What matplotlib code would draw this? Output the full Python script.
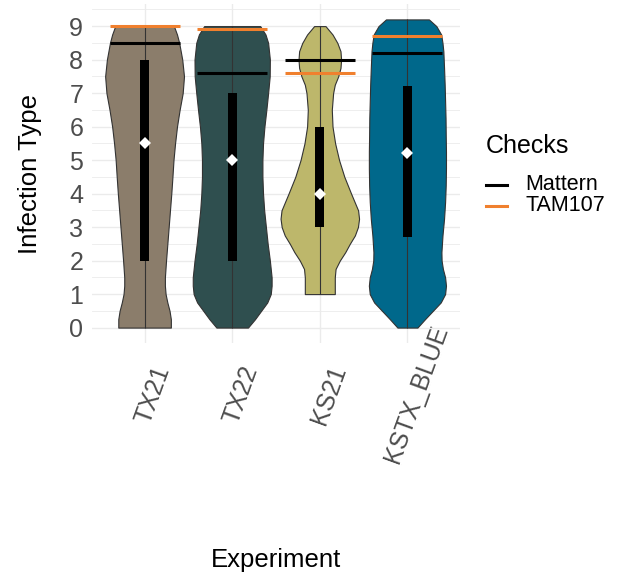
import numpy as np
import matplotlib.pyplot as plt
from matplotlib.lines import Line2D
from matplotlib.ticker import MultipleLocator
from matplotlib.transforms import ScaledTranslation

plt.rcParams['font.family'] = ['Liberation Sans', 'DejaVu Sans']

experiments = ['TX21', 'TX22', 'KS21', 'KSTX_BLUE']
fill_colors = ['#8B7D6B', '#2F4F4F', '#BDB76B', '#00688B']

# violin outlines: infection type level and half width of the violin there
tx21_y = [0, 0.25, 0.5, 0.75, 1.0, 1.25, 1.5, 2, 2.5, 3, 3.5, 4, 4.5, 5, 5.5, 6, 6.5, 7, 7.5, 8, 8.5, 8.75, 9]
tx21_w = [0.30, 0.30, 0.285, 0.26, 0.24, 0.232, 0.232, 0.245, 0.26, 0.275, 0.29, 0.305, 0.318, 0.33, 0.348,
          0.37, 0.40, 0.435, 0.45, 0.43, 0.395, 0.37, 0.335]

tx22_y = [0, 0.25, 0.5, 0.75, 1.0, 1.25, 1.5, 2, 2.5, 3, 3.5, 4, 4.5, 5, 5.5, 6, 6.5, 7, 7.5, 8, 8.5, 8.75, 9]
tx22_w = [0.18, 0.26, 0.33, 0.40, 0.44, 0.45, 0.45, 0.43, 0.405, 0.385, 0.365, 0.352, 0.345, 0.345, 0.352,
          0.368, 0.39, 0.41, 0.428, 0.43, 0.41, 0.38, 0.32]

ks21_y = [1.0, 1.5, 1.75, 2.0, 2.25, 2.5, 2.75, 3.0, 3.25, 3.5, 4.0, 4.5, 5.0, 5.5, 6.0, 6.5, 7.0, 7.25,
          7.5, 7.75, 8.0, 8.25, 8.5, 8.75, 9.0]
ks21_w = [0.171, 0.171, 0.18, 0.228, 0.29, 0.342, 0.40, 0.435, 0.448, 0.437, 0.357, 0.28, 0.22, 0.175,
          0.145, 0.137, 0.152, 0.171, 0.21, 0.236, 0.243, 0.236, 0.2, 0.145, 0.065]

kstx_y = [0.0, 0.25, 0.5, 0.75, 1.0, 1.25, 1.5, 1.75, 2.0, 2.25, 2.75, 3.25, 3.75, 4.25, 4.75, 5.25, 5.75,
          6.25, 6.75, 7.25, 7.75, 8.25, 8.5, 8.75, 9.0, 9.2]
kstx_w = [0.114, 0.20, 0.29, 0.38, 0.43, 0.44, 0.43, 0.405, 0.39, 0.388, 0.40, 0.418, 0.43, 0.437, 0.44,
          0.44, 0.437, 0.435, 0.43, 0.425, 0.418, 0.41, 0.40, 0.385, 0.33, 0.245]

q1 = [2.0, 2.0, 3.0, 2.7]
q3 = [8.0, 7.0, 6.0, 7.2]
means = [5.5, 5.0, 4.0, 5.2]

# check cultivars
mattern = [8.5, 7.6, 8.0, 8.2]
tam107 = [9.0, 8.9, 7.6, 8.7]

profiles = [(tx21_y, tx21_w), (tx22_y, tx22_w), (ks21_y, ks21_w), (kstx_y, kstx_w)]
xs = np.arange(1, len(experiments) + 1)

W, H = 621, 573
fig = plt.figure(figsize=(W / 100, H / 100), dpi=100)
ax = fig.add_axes([92 / W, 1 - 343 / H, 368 / W, 339 / H])

for x, (ys, ws), c in zip(xs, profiles, fill_colors):
    ys = np.array(ys)
    ws = np.array(ws)
    ax.fill_betweenx(ys, x - ws, x + ws, facecolor=c, edgecolor='#333333', linewidth=0.8, zorder=2)
    ax.vlines(x, ys.min(), ys.max(), color='#333333', linewidth=0.8, zorder=3)

ax.bar(xs, np.array(q3) - np.array(q1), bottom=q1, width=0.105, color='black', zorder=4)
ax.plot(xs, means, 'D', color='white', markersize=6.5, markeredgewidth=0, zorder=5)

orange = '#F0802E'
ax.hlines(mattern, xs - 0.4, xs + 0.4, color='black', linewidth=2.2, zorder=6)
ax.hlines(tam107, xs - 0.4, xs + 0.4, color=orange, linewidth=2.2, zorder=6)

ax.set_xlim(0.4, 4.6)
ax.set_ylim(-0.46, 9.66)
ax.set_yticks(range(10))
ax.yaxis.set_minor_locator(MultipleLocator(0.5))
ax.set_xticks(xs)
ax.set_xticklabels(experiments)

ax.grid(which='major', color='#EBEBEB', linewidth=1.0)
ax.grid(which='minor', axis='y', color='#EBEBEB', linewidth=0.6)
ax.set_axisbelow(True)
for s in ax.spines.values():
    s.set_visible(False)

ax.tick_params(axis='both', which='both', length=0, colors='#4D4D4D')
ax.tick_params(axis='y', labelsize=18, pad=6.3)
ax.tick_params(axis='x', labelsize=18, pad=37)
for lab in ax.get_xticklabels():
    lab.set_rotation(70)
    lab.set_ha('center')
    lab.set_va('center')
    lab.set_rotation_mode('anchor')
    lab.set_transform(lab.get_transform() + ScaledTranslation(0.09, 0, fig.dpi_scale_trans))

ax.set_xlabel('Experiment', fontsize=18.5, color='black')
ax.xaxis.set_label_coords(0.5, -0.606)
ax.set_ylabel('Infection Type', fontsize=18.5, color='black')
ax.yaxis.set_label_coords(-0.137, 0.5)

# legend for the check lines
fig.text(486 / W, 1 - 153 / H, 'Checks', fontsize=18, va='baseline', ha='left')
for yk, yt, col, name in [(185, 190.5, 'black', 'Mattern'), (206, 211.5, orange, 'TAM107')]:
    fig.add_artist(Line2D([486 / W, 507 / W], [1 - yk / H, 1 - yk / H], color=col, linewidth=2.2))
    fig.text(525 / W, 1 - yt / H, name, fontsize=15.5, va='baseline', ha='left')

fig.savefig('out.png', dpi=100)
